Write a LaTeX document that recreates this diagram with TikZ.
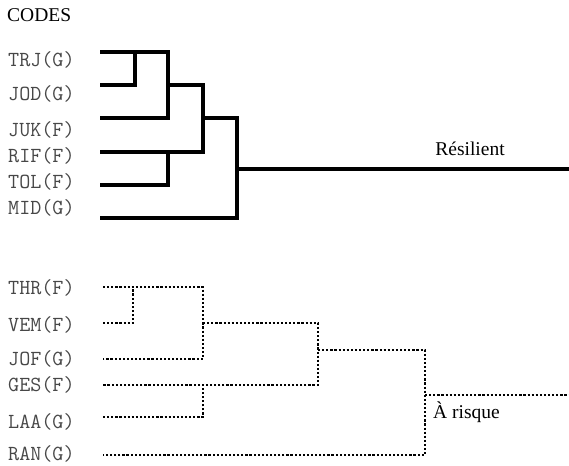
\documentclass[tikz,border=0pt]{standalone}
\usepackage{fontspec}
\setmainfont{Liberation Serif}
\begin{document}
\begin{tikzpicture}[x=1pt,y=-1pt,
  code/.style={anchor=west,inner sep=0pt,font=\ttfamily\fontsize{21.5}{21.5}\selectfont,text=black!72},
  title/.style={inner sep=0pt,font=\fontsize{19.5}{19.5}\selectfont},
  solidlink/.style={line width=3.2pt,line cap=rect,line join=miter},
  dotlink/.style={line width=2.2pt,dash pattern=on 2.2pt off 1.9pt}]
\useasboundingbox (0,0) rectangle (569,465);

% heading
\node[title,anchor=west] (codes) at (7,15) {CODES};

% leaf labels, resilient group
\node[code] (trj) at (8,60)  {TRJ(G)};
\node[code] (jod) at (8,94)  {JOD(G)};
\node[code] (juk) at (8,130) {JUK(F)};
\node[code] (rif) at (8,156) {RIF(F)};
\node[code] (tol) at (8,182) {TOL(F)};
\node[code] (mid) at (8,208) {MID(G)};

% leaf labels, at-risk group
\node[code] (thr) at (8,288) {THR(F)};
\node[code] (vem) at (8,325) {VEM(F)};
\node[code] (jof) at (8,359) {JOF(G)};
\node[code] (ges) at (8,385) {GES(F)};
\node[code] (laa) at (8,422) {LAA(G)};
\node[code] (ran) at (8,454) {RAN(G)};

% leaf line ends, resilient group
\coordinate (s1) at (102,52);
\coordinate (s2) at (102,85);
\coordinate (s3) at (102,118);
\coordinate (s4) at (102,152);
\coordinate (s5) at (102,185);
\coordinate (s6) at (102,218);
% merge points
\coordinate (sa) at (135,52);
\coordinate (sb) at (168,118);
\coordinate (sbo) at (168,85);
\coordinate (sc) at (203,152);
\coordinate (sco) at (203,118);
\coordinate (sd) at (168,152);
\coordinate (se) at (237,218);
\coordinate (seo) at (237,169);
\coordinate (send) at (569,169);

\draw[solidlink] (s2) -| (sa);
\draw[solidlink] (s1) -| (sb) -- (s3);
\draw[solidlink] (sbo) -| (sc) -- (s4);
\draw[solidlink] (s5) -| (sd);
\draw[solidlink] (sco) -| (se) -- (s6);
\draw[solidlink] (seo) -- (send);
\node[title] (res) at (470,149) {Résilient};

% leaf line ends, at-risk group
\coordinate (r1) at (103,287);
\coordinate (r2) at (103,323);
\coordinate (r3) at (103,359);
\coordinate (r4) at (103,385);
\coordinate (r5) at (103,417);
\coordinate (r6) at (103,455);
% merge points
\coordinate (ra) at (133,287);
\coordinate (rb) at (203,359);
\coordinate (rbo) at (203,323);
\coordinate (rc) at (318,385);
\coordinate (rco) at (318,350);
\coordinate (rd) at (203,385);
\coordinate (re) at (425,455);
\coordinate (reo) at (425,395);
\coordinate (rend) at (569,395);

\draw[dotlink] (r2) -| (ra);
\draw[dotlink] (r1) -| (rb) -- (r3);
\draw[dotlink] (rbo) -| (rc) -- (r4);
\draw[dotlink] (r5) -| (rd);
\draw[dotlink] (rco) -| (re) -- (r6);
\draw[dotlink] (reo) -- (rend);
\node[title,anchor=west] (risk) at (433,412) {À risque};
\end{tikzpicture}
\end{document}
